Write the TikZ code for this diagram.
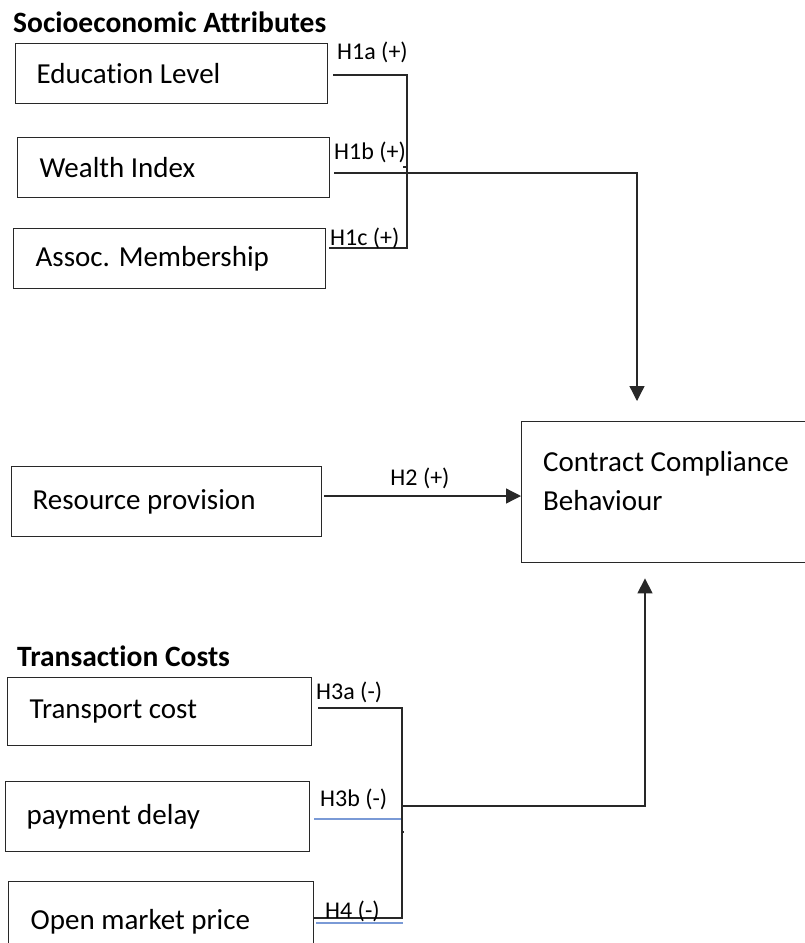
\documentclass[tikz,border=0pt]{standalone}
\usepackage{fontspec}
\setmainfont{Carlito}[Ligatures=CommonOff]
\usetikzlibrary{arrows.meta}
\definecolor{edge}{RGB}{40,40,40}
\definecolor{linkblue}{RGB}{122,154,214}
\tikzset{
  box/.style={draw=edge, line width=1.4pt, rectangle, anchor=north west,
    inner ysep=0pt, align=flush left, font=\fontsize{29}{35}\selectfont},
  heading/.style={anchor=base west, inner sep=0pt, font=\fontsize{29.5}{35}\selectfont\bfseries},
  lab/.style={inner sep=0pt, font=\fontsize{24}{28}\selectfont},
  conn/.style={draw=edge, line width=1.3pt},
  arrow/.style={conn, -{Triangle[length=15pt,width=15pt]}},
  bluelink/.style={draw=linkblue, line width=1.5pt}
}
\begin{document}
\begin{tikzpicture}[x=1pt,y=-1pt]
\useasboundingbox (0,0) rectangle (805,943);

% headings
\node[heading] (socio) at (13,32) {Socioeconomic Attributes};
\node[heading] (tcost) at (17,666) {Transaction Costs};

% socioeconomic boxes
\node[box, minimum height=60pt, text width=270pt, inner xsep=21pt] (edu) at (15,43) {Education Level};
\node[box, minimum height=60pt, text width=268pt, inner xsep=22pt] (wealth) at (17,137) {Wealth Index};
\node[box, minimum height=60pt, text width=268pt, inner xsep=22pt] (assoc) at (13,228) {Assoc. Membership};

% resource provision and outcome
\node[box, minimum height=70pt, text width=268pt, inner xsep=21pt] (res) at (11,466) {Resource provision};
\node[box, minimum height=141pt, minimum width=310pt] (ccb) at (521,421) {};
\node[anchor=north west, inner sep=0pt, align=flush left, font=\fontsize{29}{39}\selectfont] (ccbtext) at (543,451) {Contract Compliance\\Behaviour};

% transaction cost boxes
\node[box, minimum height=68pt, text width=260pt, inner xsep=22pt] (trans) at (7,677) {Transport cost};
\node[box, minimum height=70pt, text width=262pt, inner xsep=21pt] (pay) at (5,781) {payment delay};
\node[box, minimum height=80pt, text width=261pt, inner xsep=22pt] (omp) at (8,881) {Open market price};

% junction points
\coordinate (ja) at (407,75);
\coordinate (jc) at (407,248);
\coordinate (jb) at (637,173);
\coordinate (h2) at (0,496);
\coordinate (jd) at (402,708);
\coordinate (je) at (402,918);
\coordinate (jf) at (402,806);
\coordinate (jg) at (645,806);
\coordinate (tka) at (403,167);
\coordinate (tkb) at (404,832);
\coordinate (bla) at (401,819);
\coordinate (blb) at (403,923);

% socioeconomic links
\draw[conn, shorten <=3pt, shorten >=5pt] (assoc.east |- jc) -- (jc) -- (ja) -- (edu.east |- ja);
\draw[conn] (tka) -- (ja |- tka);
\draw[arrow, shorten <=4pt, shorten >=20pt] (wealth.east |- jb) -- (jb) -- (jb |- ccb.north);

% resource provision link
\draw[arrow, shorten <=2pt] (res.east |- h2) -- (ccb.west |- h2);

% transaction cost links
\draw[conn, shorten <=6pt] (trans.east |- jd) -- (jd) -- (je) -- (omp.east |- je);
\draw[conn] (jd |- tkb) -- (tkb);
\draw[arrow, shorten >=15pt] (jf) -- (jg) -- (jg |- ccb.south);
\draw[bluelink, shorten <=4pt] (pay.east |- bla) -- (bla);
\draw[bluelink, shorten <=2pt] (omp.east |- blb) -- (blb);

% hypothesis labels
\node[lab, anchor=west] (lh1a) at (337,52) {H1a (+)};
\node[lab, anchor=west] (lh1b) at (334,152) {H1b (+)};
\node[lab, anchor=west] (lh1c) at (330,238) {H1c (+)};
\node[lab] (lh2) at (420,478) {H2 (+)};
\node[lab, anchor=west] (lh3a) at (316,692) {H3a (-)};
\node[lab, anchor=west] (lh3b) at (320,799) {H3b (-)};
\node[lab, anchor=west] (lh4) at (325,911) {H4 (-)};
\end{tikzpicture}
\end{document}
